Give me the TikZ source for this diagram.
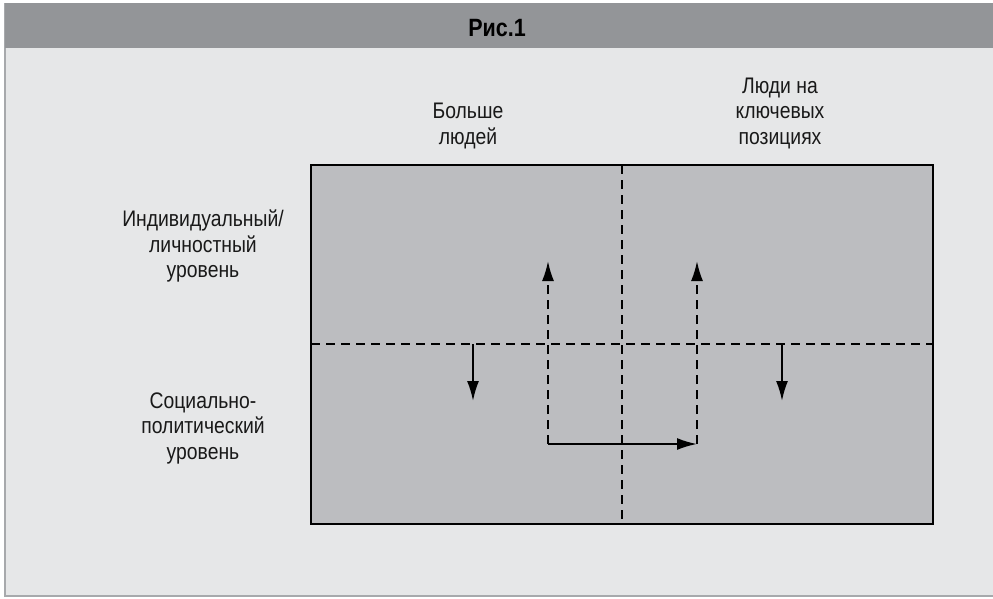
\documentclass[tikz,border=0pt]{standalone}
\usepackage{fontspec}
\setmainfont[FakeStretch=0.86]{Liberation Sans}
\usepackage{tikz}
\usetikzlibrary{arrows.meta}

\definecolor{barGray}{HTML}{939598}
\definecolor{bodyGray}{HTML}{E6E7E8}
\definecolor{boxGray}{HTML}{BCBDC0}
\definecolor{lineGray}{HTML}{A7A9AC}

\tikzset{
  lbl/.style={align=center, font=\fontsize{22.5}{25.5}\selectfont, text=black!90},
  divider/.style={dashed, dash pattern=on 9pt off 6pt, line width=2pt},
  move/.style={-{Latex[length=20pt,width=12pt]}, line width=2pt},
}

\begin{document}
\begin{tikzpicture}[x=1pt,y=-1pt]
        \useasboundingbox (0,0) rectangle (993,598);

        % frame and title bar
        \fill[bodyGray, draw=lineGray, line width=2pt] (5,4) rectangle (996,596);
        \fill[barGray] (5,3) rectangle (996,48);
        \node[font=\bfseries\fontsize{25}{25}\selectfont] (title) at (497,28) {Рис.1};

        % main field
        \draw[fill=boxGray, line width=2pt] (311,165) rectangle (933,524);
        \coordinate (vtop) at (622,165);
        \coordinate (vbot) at (622,524);
        \coordinate (hleft) at (311,344);
        \coordinate (hright) at (933,344);
        \draw[divider] (vtop) -- (vbot);
        \draw[divider] (hleft) -- (hright);

        % column and row labels
        \node[lbl] (more) at (468,126) {Больше\\людей};
        \node[lbl] (key) at (780,113) {Люди на\\ключевых\\позициях};
        \node[lbl] (indiv) at (203,246) {Индивидуальный/\\личностный\\уровень};
        \node[lbl] (social) at (203,428) {Социально-\\политический\\уровень};

        % moves
        \coordinate (a1) at (473,344);
        \coordinate (a2) at (473,401);
        \coordinate (b1) at (782,344);
        \coordinate (b2) at (782,401);
        \coordinate (c0) at (548,444);
        \coordinate (c1) at (548,261);
        \coordinate (d0) at (697,444);
        \coordinate (d1) at (697,261);

        \draw[move] (a1) -- (a2);
        \draw[move] (b1) -- (b2);
        \draw[move, divider] (c0) -- (c1);
        \draw[move, divider] (d0) -- (d1);
        \draw[move] (c0) -- (d0);
      \end{tikzpicture}
\end{document}
